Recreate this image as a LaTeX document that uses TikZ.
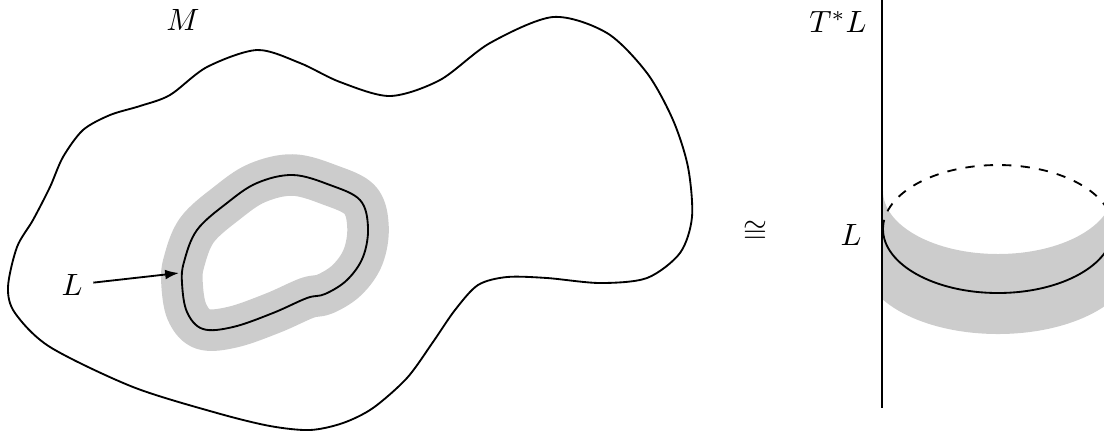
\documentclass[tikz,border=0pt]{standalone}
\usepackage{amsmath}
\usepackage{amssymb}
\usetikzlibrary{arrows.meta, positioning}
\tikzset{
  curve/.style={line width=0.6pt},
  band/.style={line width=13.5pt, draw=black!20, line join=round},
}
\newcommand{\lloop}[1]{%
  \draw[#1] plot[smooth cycle, tension=0.6] coordinates {
    (182,283) (184,262) (197,230) (227,203) (257,183) (293,175) (330,185)
    (360,200) (368,227) (363,257) (347,280) (325,294) (307,298) (273,313)
    (233,327) (203,329) (187,312)};}

\begin{document}
\begin{tikzpicture}[x=0.325pt, y=-0.325pt, every node/.style={font=\normalsize}]
\useasboundingbox (0,0) rectangle (1104,435);
% manifold M
\draw[curve] plot[smooth cycle, tension=0.5] coordinates {
  (33,220) (50,187) (63,157) (83,130) (110,115) (140,106) (170,95) (207,67)
  (257,50) (300,63) (340,82) (390,96) (440,80) (490,43) (553,17) (607,33)
  (647,73) (673,120) (688,167) (692,217) (680,253) (647,278) (600,283)
  (547,278) (507,277) (478,285) (455,310) (433,342) (407,378) (373,408)
  (343,423) (310,430) (270,426) (217,413) (133,387) (50,347) (15,313)
  (8,287) (17,247)};
\node (M) at (183,20) {$M$};
% L and its neighbourhood
\lloop{band}
\lloop{curve}
\node (L1) at (72,285) {$L$};
\coordinate (Lhit) at (179,273);
\draw[curve, -{Latex[length=4.5pt, width=3.2pt]}] (L1) -- (Lhit);
% iso
\node (iso) at (755,232) {$\cong$};
% cotangent fibre
\coordinate (ftop) at (882,0);
\coordinate (fbot) at (882,408);
\node (TL) at (838,22) {$T^*L$};
\node (L2) at (851,235) {$L$};
\begin{scope}
\clip (882,0) rectangle (1104,435);
\fill[black!20] (883,191) arc[start angle=180, end angle=0, x radius=115, y radius=63]
  -- (1133,262) arc[start angle=0, end angle=180, x radius=135, y radius=72] -- cycle;
\end{scope}
\draw[curve] (883,229) arc[start angle=180, end angle=0, x radius=115, y radius=64];
\draw[curve, dashed] (883,229) arc[start angle=180, end angle=360, x radius=115, y radius=64];
\draw[curve] (ftop) -- (fbot);
\end{tikzpicture}
\end{document}
